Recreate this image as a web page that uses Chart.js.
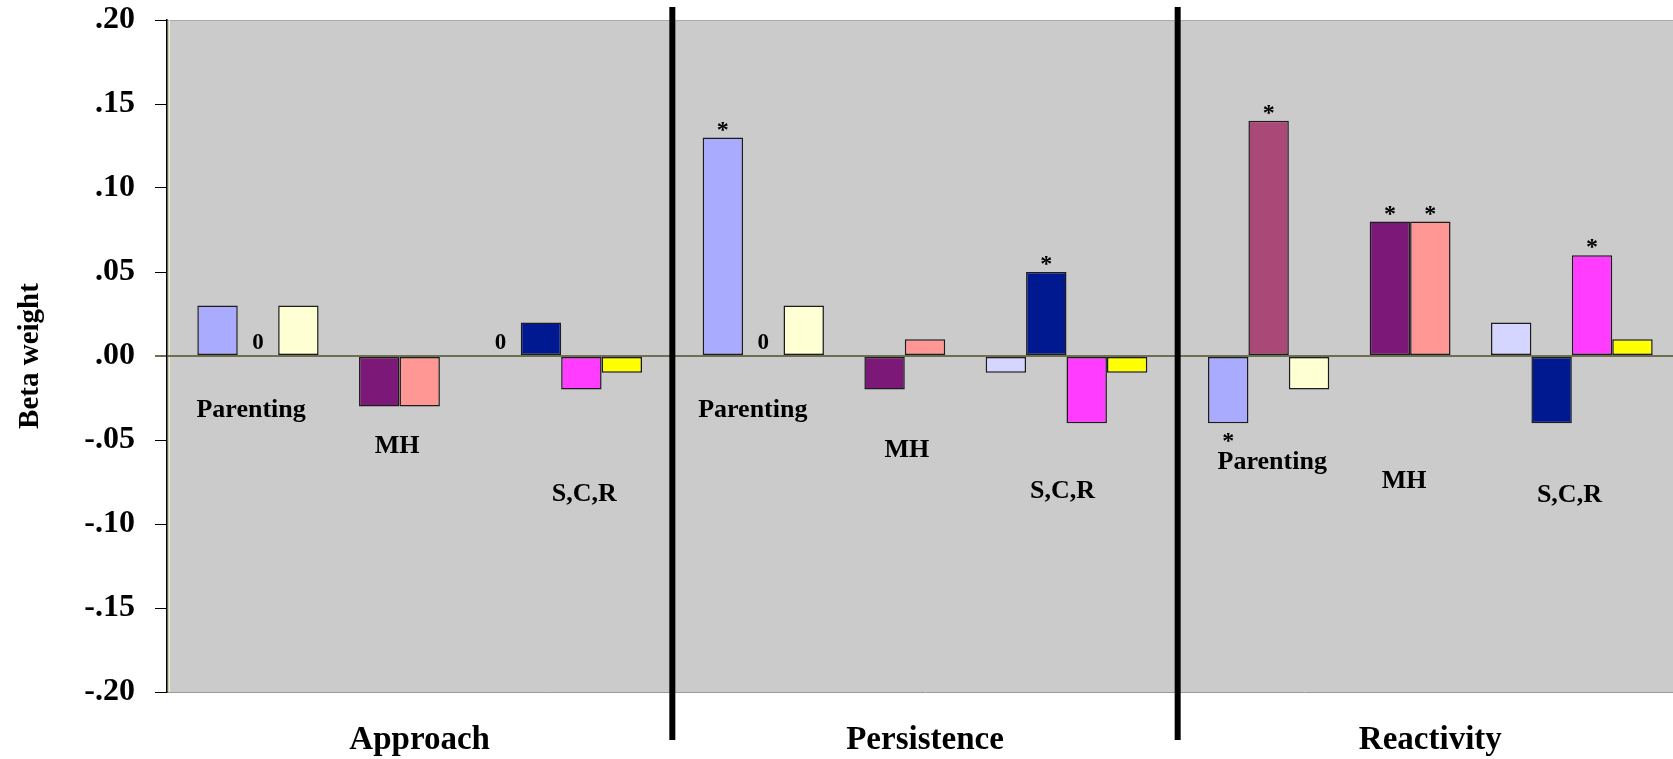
<!DOCTYPE html>
<html>
<head>
<meta charset="utf-8">
<title>Beta weights</title>
<script src="https://cdn.jsdelivr.net/npm/chart.js@4.4.1/dist/chart.umd.min.js"></script>
<style>
html, body { margin: 0; padding: 0; overflow: hidden; background: #fff; }
#wrap { position: relative; width: 1683px; height: 759px; }
</style>
</head>
<body>
<div id="wrap"><canvas id="betaChart"></canvas></div>
<script>
//data

//categories along the x axis, and the predictor groups inside each one
const sections = ['Approach', 'Persistence', 'Reactivity'];
const groups = ['Parenting', 'MH', 'S,C,R'];

//beta weights, one value per section
const parenting1 = [0.03, 0.13, -0.04];
const parenting2 = [0, 0, 0.14];
const parenting3 = [0.03, 0.03, -0.02];
const mh1 = [-0.03, -0.02, 0.08];
const mh2 = [-0.03, 0.01, 0.08];
const scr1 = [0, -0.01, 0.02];
const scr2 = [0.02, 0.05, -0.04];
const scr3 = [-0.02, -0.04, 0.06];
const scr4 = [-0.01, -0.01, 0.01];
const spacer = [null, null, null];

//significant weights get a star
const parenting1Sig = [false, true, true];
const parenting2Sig = [false, false, true];
const mh1Sig = [false, false, true];
const mh2Sig = [false, false, true];
const scr2Sig = [false, true, false];
const scr3Sig = [false, false, true];
const noSig = [false, false, false];

//y axis ticks
const yMin = -0.20;
const yMax = 0.20;
const yStep = 0.05;

//where the group names sit (value on the y axis) in each section
const parentingLabelAt = [-0.0365, -0.0365, -0.067];
const mhLabelAt = [-0.058, -0.060, -0.0785];
const scrLabelAt = [-0.0865, -0.0845, -0.087];

/////////////////////////////////////////////////////////
//styles

const FONT = "'Liberation Serif', 'Times New Roman', serif";

const series = [
  {data: parenting1, sig: parenting1Sig, color: '#A9ABFF'},
  {data: parenting2, sig: parenting2Sig, color: '#AA4877'},
  {data: parenting3, sig: noSig, color: '#FFFFD4'},
  {data: spacer, sig: noSig, color: 'transparent'},
  {data: mh1, sig: mh1Sig, color: '#7C1877'},
  {data: mh2, sig: mh2Sig, color: '#FF9894'},
  {data: spacer, sig: noSig, color: 'transparent'},
  {data: scr1, sig: noSig, color: '#D5D6FF'},
  {data: scr2, sig: scr2Sig, color: '#001890'},
  {data: scr3, sig: scr3Sig, color: '#FF3CFF'},
  {data: scr4, sig: noSig, color: '#FFFF00'}
];

//which datasets belong to each group, and a small sideways nudge (in bar widths) per section
const groupSets = [[0, 2], [4, 5], [7, 10]];
const groupLabelAt = [parentingLabelAt, mhLabelAt, scrLabelAt];
const groupNudge = [[-0.17, -0.26, 0.09], [-0.06, 0.05, -0.15], [0.57, -0.1, -0.06]];

/////////////////////////////////////////////////////////
//plugins

//grey plot area
const plotBackground = {
  id: 'plotBackground',
  beforeDraw(chart) {
    const {ctx, chartArea: a} = chart;
    ctx.save();
    ctx.fillStyle = '#CBCBCB';
    ctx.fillRect(a.left, a.top, a.right - a.left, a.bottom - a.top);
    ctx.strokeStyle = '#ABABAB';
    ctx.lineWidth = 1;
    ctx.beginPath();
    ctx.moveTo(a.left, a.top + 0.5);
    ctx.lineTo(a.right, a.top + 0.5);
    ctx.stroke();
    ctx.strokeStyle = '#F4F4B8';
    ctx.beginPath();
    ctx.moveTo(a.left + 2.5, a.top);
    ctx.lineTo(a.left + 2.5, a.bottom);
    ctx.stroke();
    ctx.restore();
  }
};

//thick black lines between the sections
const sectionLines = {
  id: 'sectionLines',
  afterDatasetsDraw(chart) {
    const {ctx, chartArea: a} = chart;
    const x = chart.scales.x;
    ctx.save();
    ctx.fillStyle = '#000';
    for (let i = 1; i < sections.length; i++) {
      const px = (x.getPixelForValue(i - 1) + x.getPixelForValue(i)) / 2;
      ctx.fillRect(px - 3, a.top - 13, 6, a.bottom - a.top + 61);
    }
    ctx.restore();
  }
};

//"0" labels, stars and the group names
const barNotes = {
  id: 'barNotes',
  afterDatasetsDraw(chart) {
    const {ctx} = chart;
    const y = chart.scales.y;
    const zero = y.getPixelForValue(0);
    ctx.save();
    ctx.fillStyle = '#000';
    ctx.textAlign = 'center';
    ctx.textBaseline = 'alphabetic';

    series.forEach((s, d) => {
      const bars = chart.getDatasetMeta(d).data;
      s.data.forEach((v, c) => {
        if (v === null) return;
        const bar = bars[c];
        if (v === 0) {
          ctx.font = 'bold 23px ' + FONT;
          ctx.fillText('0', bar.x, zero - 7);
        }
        if (s.sig[c]) {
          ctx.font = 'bold 24px ' + FONT;
          ctx.fillText('*', bar.x, v > 0 ? bar.y - 1 : bar.y + 25);
        }
      });
    });

    ctx.font = 'bold 26px ' + FONT;
    groups.forEach((g, gi) => {
      const [first, last] = groupSets[gi];
      sections.forEach((sec, c) => {
        const b0 = chart.getDatasetMeta(first).data[c];
        const b1 = chart.getDatasetMeta(last).data[c];
        const cx = (b0.x + b1.x) / 2 + groupNudge[gi][c] * b0.width;
        ctx.fillText(g, cx, y.getPixelForValue(groupLabelAt[gi][c]));
      });
    });
    ctx.restore();
  }
};

/////////////////////////////////////////////////////////
//chart

const ctx1 = document.getElementById('betaChart');

const betaChart = new Chart(ctx1, {
  type: 'bar',
  data: {
    labels: sections,
    datasets: series.map(s => ({
      data: s.data,
      backgroundColor: s.color,
      borderColor: '#1C1C1C',
      borderWidth: 1.5,
      borderSkipped: false,
      categoryPercentage: 0.88,
      barPercentage: 1.0
    }))
  },
  options: {
    responsive: true,
    maintainAspectRatio: false,
    animation: false,
    layout: {padding: {left: 4, top: 20, right: 0, bottom: 0}},
    plugins: {
      legend: {display: false},
      tooltip: {enabled: false}
    },
    scales: {
      x: {
        type: 'category',
        offset: true,
        grid: {display: false},
        border: {display: true, color: '#9A9A9A', width: 1},
        ticks: {
          color: '#000',
          padding: 21,
          font: {family: FONT, size: 33, weight: 'bold'}
        },
        afterFit(scale) { scale.height = 67; }
      },
      y: {
        min: yMin,
        max: yMax,
        grid: {
          color: c => (c.tick && Math.abs(c.tick.value) < 1e-9) ? '#6E6E52' : 'rgba(0,0,0,0)',
          lineWidth: c => (c.tick && Math.abs(c.tick.value) < 1e-9) ? 2 : 1,
          tickColor: c => (c.tick && Math.abs(c.tick.value) < 1e-9) ? '#6E6E52' : '#000',
          tickLength: 12
        },
        border: {display: true, color: '#000', width: 1.5},
        ticks: {
          stepSize: yStep,
          color: '#000',
          padding: 20,
          font: {family: FONT, size: 32, weight: 'bold'},
          callback: v => {
            const s = Math.abs(v).toFixed(2).replace(/^0/, '');
            return v < -1e-9 ? '-' + s : s;
          }
        },
        title: {
          display: true,
          text: 'Beta weight',
          color: '#000',
          padding: {top: 9, bottom: 0},
          font: {family: FONT, size: 29, weight: 'bold'}
        },
        afterFit(scale) {
          scale.width = 163;
          //the tick padding should not push the plot down
          scale.paddingTop = 0;
          scale.paddingBottom = 0;
        }
      }
    }
  },
  plugins: [plotBackground, sectionLines, barNotes]
});
</script>
</body>
</html>
